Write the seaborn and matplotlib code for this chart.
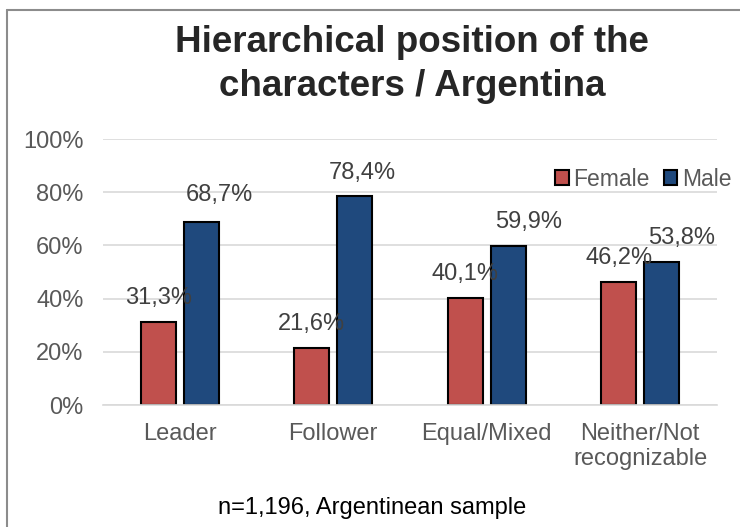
import matplotlib
matplotlib.use("Agg")
import matplotlib.pyplot as plt
from matplotlib.patches import Patch
import seaborn as sns
import pandas as pd

categories = ["Leader", "Follower", "Equal/Mixed", "Neither/Not\nrecognizable"]
female = [31.3, 21.6, 40.1, 46.2]
male = [68.7, 78.4, 59.9, 53.8]
genders = ["Female", "Male"]
colors = {"Female": "#C0504D", "Male": "#1F497D"}

# label nudges in pixels (Excel labels were moved by hand)
male_dx = [18, 8, 20, 20]
male_dy = [27, 23, 24, 24]

df = pd.DataFrame({
    "category": categories * 2,
    "gender": ["Female"] * 4 + ["Male"] * 4,
    "value": female + male,
})

sns.set_style("white")
plt.rcParams["font.family"] = ["Liberation Sans", "DejaVu Sans"]

fig = plt.figure(figsize=(7.4, 5.27), dpi=100)
ax = fig.add_axes([103 / 740, 1 - 405 / 527, (717 - 103) / 740, (405 - 139) / 527])

sns.barplot(data=df, x="category", y="value", hue="gender", palette=colors,
            order=categories, hue_order=genders, width=0.56, gap=0.19, saturation=1,
            edgecolor="black", linewidth=1.5, ax=ax, legend=False)

ax.set_ylim(0, 100)
ax.set_xlim(-0.5, 3.5)
ax.set_yticks(range(0, 101, 20))
ax.set_yticklabels([f"{v}%" for v in range(0, 101, 20)])
ax.yaxis.grid(True, color="#D9D9D9", linewidth=1.2)
ax.set_axisbelow(True)
for s in ["top", "right", "left"]:
    ax.spines[s].set_visible(False)
ax.spines["bottom"].set_color("#D9D9D9")
ax.spines["bottom"].set_linewidth(1.2)
ax.tick_params(axis="both", length=0, labelsize=17, colors="#595959")
ax.tick_params(axis="y", pad=14)
ax.tick_params(axis="x", pad=13)
ax.set_xlabel("")
ax.set_ylabel("")

# data labels (comma decimal)
px = 0.72
for i, container in enumerate(ax.containers):
    for j, bar in enumerate(container):
        h = bar.get_height()
        dx, dy = (0, 24) if i == 0 else (male_dx[j], male_dy[j])
        ax.annotate(f"{h:.1f}%".replace(".", ","),
                    (bar.get_x() + bar.get_width() / 2, h),
                    xytext=(dx * px, dy * px), textcoords="offset points",
                    ha="center", va="center", fontsize=17, color="#404040")

handles = [Patch(facecolor=colors[g], edgecolor="black", linewidth=1.5, label=g) for g in genders]
fig.legend(handles=handles, ncol=2, loc="center right", bbox_to_anchor=(752 / 740, 1 - 179 / 527),
           frameon=False, fontsize=16.5, handlelength=0.6, handleheight=0.6,
           handletextpad=0.2, columnspacing=0.6, labelcolor="#595959")

fig.text(412 / 740, 1 - 52 / 527, "Hierarchical position of the",
         ha="center", va="baseline", fontsize=26.5, fontweight="bold")
fig.text(412 / 740, 1 - 96 / 527, "characters / Argentina",
         ha="center", va="baseline", fontsize=26.5, fontweight="bold")
fig.text(372 / 740, 1 - 508 / 527, "n=1,196, Argentinean sample",
         ha="center", va="center", fontsize=17, color="black")

# chart frame
fig.add_artist(plt.Line2D([7 / 740, 7 / 740], [0, 1 - 10 / 527], transform=fig.transFigure,
                          color="#8C8C8C", linewidth=1.5))
fig.add_artist(plt.Line2D([7 / 740, 1], [1 - 10 / 527, 1 - 10 / 527], transform=fig.transFigure,
                          color="#8C8C8C", linewidth=1.5))

fig.savefig("out.png", dpi=100)
